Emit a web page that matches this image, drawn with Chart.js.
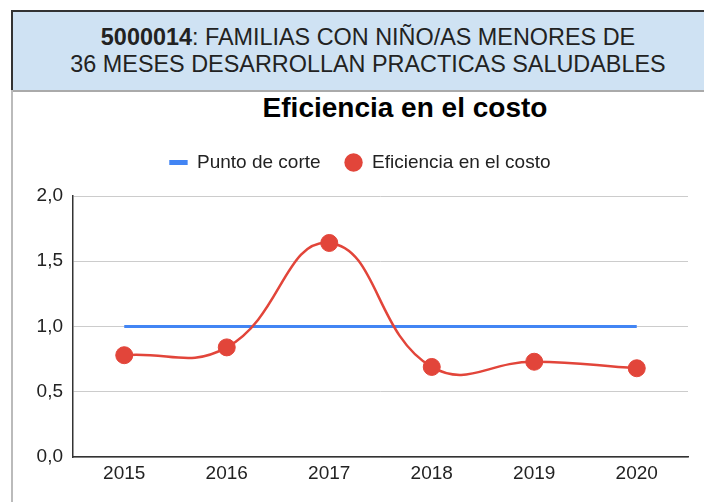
<!DOCTYPE html>
<html>
<head>
<meta charset="utf-8">
<script src="https://cdn.jsdelivr.net/npm/chart.js@4"></script>
<style>
  html, body { margin:0; padding:0; background:#fff; width:704px; height:502px; overflow:hidden; font-family:"Liberation Sans", Arial, sans-serif; }
  #header { position:absolute; left:11px; top:10px; width:700px; height:78px; background:#cfe2f3;
            border-top:2px solid #333; border-left:2px solid #333; border-bottom:2px solid #aaa; box-sizing:content-box; }
  #header div { position:absolute; left:0; width:710px; text-align:center; font-size:23.4px; line-height:26px; color:#222; }
  #leftline { position:absolute; left:11px; top:90px; width:2px; height:412px; background:#bbb; }
  #title { position:absolute; left:0; width:810px; top:92px; text-align:center; font-weight:bold; font-size:28px; line-height:32px; color:#000; }
  #wrap { position:absolute; left:12px; top:91px; }
</style>
</head>
<body>
<div id="header">
  <div style="top:12px"><b>5000014</b>: FAMILIAS CON NIÑO/AS MENORES DE</div>
  <div style="top:39px">36 MESES DESARROLLAN PRACTICAS SALUDABLES</div>
</div>
<div id="leftline"></div>
<div id="title">Eficiencia en el costo</div>
<div id="wrap"><canvas id="c" width="692" height="411"></canvas></div>
<script>
const years = ['2015', '2016', '2017', '2018', '2019', '2020'];
const puntoCorte = [1, 1, 1, 1, 1, 1];
const eficiencia = [0.78, 0.84, 1.64, 0.69, 0.73, 0.68];
const seriesNames = ['Punto de corte', 'Eficiencia en el costo'];
const yTickValues = [0, 0.5, 1, 1.5, 2];

const BLUE = '#4285f4';
const RED = '#e2453a';
const FONT = '"Liberation Sans", Arial, sans-serif';

const legendGap = {
  id: 'legendGap',
  afterInit(chart) {
    const lg = chart.legend;
    if (lg && !lg._patched) {
      const orig = lg.fit;
      lg.fit = function () { orig.call(this); this.height += 14; };
      lg._patched = true;
    }
  }
};

new Chart(document.getElementById('c'), {
  type: 'line',
  plugins: [legendGap],
  data: {
    labels: years,
    datasets: [
      {
        label: seriesNames[0],
        data: puntoCorte,
        borderColor: BLUE,
        backgroundColor: BLUE,
        borderWidth: 3,
        pointRadius: 0,
        pointStyle: 'line',
        tension: 0,
        order: 2
      },
      {
        label: seriesNames[1],
        data: eficiencia,
        borderColor: RED,
        backgroundColor: RED,
        borderWidth: 2.5,
        pointRadius: 8.5,
        pointBorderWidth: 1,
        pointBackgroundColor: RED,
        pointBorderColor: RED,
        pointStyle: 'circle',
        tension: 0.45,
        order: 1
      }
    ]
  },
  options: {
    responsive: false,
    animation: false,
    devicePixelRatio: 1,
    layout: { padding: { left: 20, right: 16, top: 38, bottom: 0 } },
    plugins: {
      title: { display: false },
      tooltip: { enabled: false },
      legend: {
        display: true,
        position: 'top',
        labels: {
          usePointStyle: true,
          boxWidth: 18,
          boxHeight: 13,
          padding: 24,
          color: '#222',
          font: { family: FONT, size: 19 },
          generateLabels(chart) {
            const items = Chart.defaults.plugins.legend.labels.generateLabels(chart);
            items.sort((a, b) => a.datasetIndex - b.datasetIndex);
            items[0].lineWidth = 5;
            items[0].strokeStyle = BLUE;
            items[0].pointStyle = 'line';
            items[1].lineWidth = 0;
            items[1].pointStyle = 'circle';
            return items;
          }
        }
      }
    },
    scales: {
      x: {
        offset: true,
        grid: { display: false, drawTicks: false },
        border: { display: true, color: '#333', width: 1.5 },
        ticks: { color: '#222', font: { family: FONT, size: 19 }, padding: 5, maxRotation: 0 },
        afterFit(s) { s.height = 45; }
      },
      y: {
        min: 0, max: 2,
        afterBuildTicks(s) { s.ticks = yTickValues.map(v => ({ value: v })); },
        grid: { color: '#cccccc', lineWidth: 1, drawTicks: false },
        border: { display: true, color: '#333', width: 1.5 },
        ticks: {
          color: '#222', font: { family: FONT, size: 19 }, padding: 10,
          callback: v => Number(v).toFixed(1).replace('.', ',')
        },
        afterFit(s) { s.width = 41; }
      }
    }
  }
});
</script>
</body>
</html>
